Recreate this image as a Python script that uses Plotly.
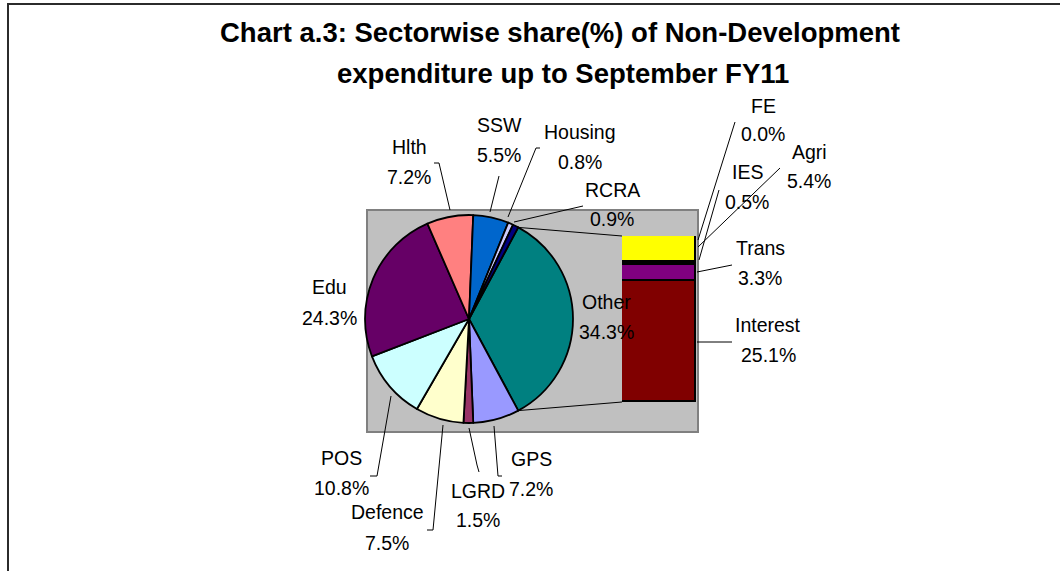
import math
import plotly.graph_objects as go

# ---------------- data ----------------
pie_labels = ["GPS", "LGRD", "Defence", "POS", "Edu", "Hlth", "SSW", "Housing", "RCRA"]
pie_values = [7.2, 1.5, 7.5, 10.8, 24.3, 7.2, 5.5, 0.8, 0.9]
pie_colors = ["#9999FF", "#993366", "#FFFFCC", "#CCFFFF", "#660066", "#FF8080",
              "#0066CC", "#CCCCFF", "#000080"]

bar_labels = ["Interest", "Trans", "IES", "FE", "Agri"]   # bottom -> top
bar_values = [25.1, 3.3, 0.5, 0.0, 5.4]
bar_colors = ["#800000", "#800080", "#000000", "#00FFFF", "#FFFF00"]

other_label = "Other"
other_color = "#008080"
other_value = round(sum(bar_values), 1)

title_lines = ["Chart a.3: Sectorwise share(%) of Non-Development",
               "expenditure up to September FY11"]

# ---------------- layout constants (pixels) ----------------
W, H = 1060, 571
CX, CY, R = 469, 319, 104           # pie centre / radius
BAR_X0, BAR_X1 = 622, 696           # bar column
BAR_TOP, BAR_BOT = 236, 402
BOX = (367, 210, 698, 432)          # grey plot area
FONT = "Liberation Sans, Arial, sans-serif"

LABEL_POS = {
    "FE": (763, 106, 134), "Agri": (809, 152, 181), "IES": (747, 172, 202),
    "Trans": (760, 248, 278), "Interest": (768, 325, 355),
    "RCRA": (612, 190, 219), "Housing": (580, 132, 162), "SSW": (499, 125, 155),
    "Hlth": (409, 147, 177), "Edu": (329, 287, 318), "POS": (341, 458, 488),
    "Defence": (387, 512, 543), "LGRD": (478, 491, 520), "GPS": (531, 459, 489),
    "Other": (606, 302, 332),
}
LEADERS = {
    "Hlth": [(434, 163), (439, 163), (450, 210)],
    "SSW": [(499, 176), (490, 212)],
    "Housing": [(540, 148), (536, 148), (508, 217)],
    "RCRA": [(583, 206), (514, 222)],
    "FE": [(735, 122), (698, 240)],
    "IES": [(719, 190), (699, 260)],
    "Agri": [(780, 168), (698, 247)],
    "Trans": [(732, 265), (697, 272)],
    "Interest": [(732, 342), (697, 342)],
    "POS": [(370, 476), (377, 476), (391, 396)],
    "Defence": [(427, 530), (433, 530), (443, 425)],
    "LGRD": [(479, 472), (477, 465), (469, 428)],
    "GPS": [(502, 476), (498, 476), (494, 426)],
}


def px(x):
    return x / W


def py(y):
    return 1 - y / H


fig = go.Figure()

# pie (Other first, centred on 3 o'clock)
all_labels = [other_label] + pie_labels
all_values = [other_value] + pie_values
half = 180.0 * other_value / sum(all_values)
fig.add_trace(go.Pie(
    labels=all_labels, values=all_values, sort=False, direction="clockwise",
    rotation=90 - half,
    marker=dict(colors=[other_color] + pie_colors, line=dict(color="black", width=1.8)),
    textinfo="none", hoverinfo="label+value", showlegend=False,
    domain=dict(x=[px(CX - R), px(CX + R)], y=[py(CY + R), py(CY - R)]),
))

# stacked bar for the "Other" breakdown
for lab, val, col in zip(bar_labels, bar_values, bar_colors):
    fig.add_trace(go.Bar(
        x=[0], y=[val], width=1, name=lab, marker_color=col,
        marker_line=dict(color="black", width=1.8), cliponaxis=False,
        showlegend=False, hovertemplate=lab + ": %{y}%<extra></extra>",
    ))

shapes = [
    # outer frame
    dict(type="rect", xref="paper", yref="paper", x0=px(8), y0=py(4), x1=px(1075),
         y1=py(590), line=dict(color="#2b2b2b", width=2), layer="below"),
    # grey plot area
    dict(type="rect", xref="paper", yref="paper", x0=px(BOX[0]), y0=py(BOX[1]),
         x1=px(BOX[2]), y1=py(BOX[3]), fillcolor="#C0C0C0",
         line=dict(color="#808080", width=2), layer="below"),
]

# connector lines from the Other slice to the bar
a = math.radians(half)
top_pt = (CX + R * math.cos(a), CY - R * math.sin(a))
bot_pt = (CX + R * math.cos(a), CY + R * math.sin(a))
for p, q in [(top_pt, (BAR_X0, BAR_TOP)), (bot_pt, (BAR_X0, BAR_BOT))]:
    shapes.append(dict(type="line", xref="paper", yref="paper",
                       x0=px(p[0]), y0=py(p[1]), x1=px(q[0]), y1=py(q[1]),
                       line=dict(color="black", width=1)))

for name, pts in LEADERS.items():
    path = "M " + " L ".join(f"{px(x)},{py(y)}" for x, y in pts)
    shapes.append(dict(type="path", xref="paper", yref="paper", path=path,
                       line=dict(color="black", width=1)))

annotations = []
for i, t in enumerate(title_lines):
    annotations.append(dict(text=f"<b>{t}</b>", xref="paper", yref="paper",
                            x=px(560 + 3 * i), y=py(33 + 40 * i), showarrow=False,
                            xanchor="center", yanchor="middle",
                            font=dict(family=FONT, size=27.5, color="black")))

values_by_name = dict(zip(all_labels, all_values))
values_by_name.update(dict(zip(bar_labels, bar_values)))
for name, (x, y1, y2) in LABEL_POS.items():
    for txt, yy in [(name, y1), (f"{values_by_name[name]:.1f}%", y2)]:
        annotations.append(dict(text=txt, xref="paper", yref="paper", x=px(x), y=py(yy),
                                showarrow=False, xanchor="center", yanchor="middle",
                                font=dict(family=FONT, size=19.5, color="black")))

fig.update_layout(
    width=W, height=H, margin=dict(l=0, r=0, t=0, b=0),
    paper_bgcolor="white", plot_bgcolor="rgba(0,0,0,0)",
    barmode="stack", bargap=0,
    xaxis=dict(domain=[px(BAR_X0), px(BAR_X1)], range=[-0.5, 0.5], visible=False,
               fixedrange=True),
    yaxis=dict(domain=[py(BAR_BOT), py(BAR_TOP)], range=[0, other_value], visible=False,
               fixedrange=True),
    shapes=shapes, annotations=annotations,
)

fig.write_html("out.html", config={"displayModeBar": False},
               post_script="document.body.style.margin='0';"
                           "document.body.style.overflow='hidden';")
